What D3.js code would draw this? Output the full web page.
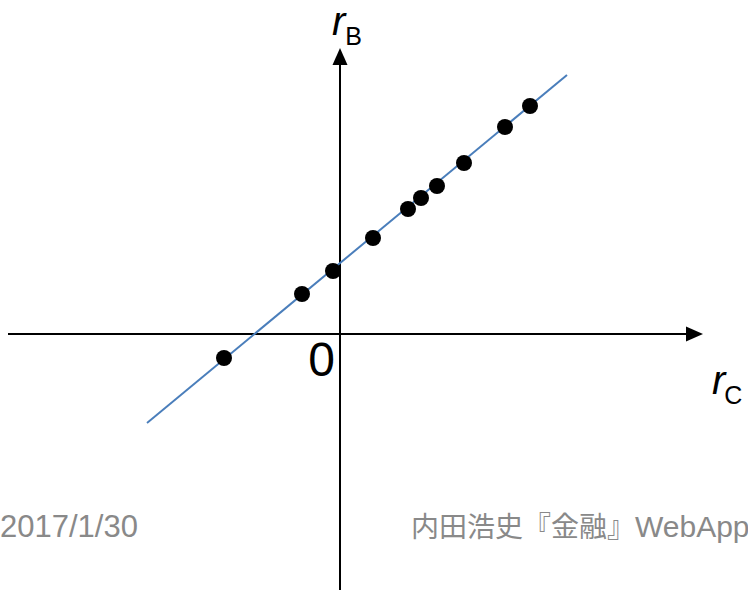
<!DOCTYPE html>
<html>
<head>
<meta charset="utf-8">
<script src="https://cdn.jsdelivr.net/npm/d3@7"></script>
<style>
  html, body { margin: 0; padding: 0; background: #fff; overflow: hidden; }
  svg { display: block; }
</style>
</head>
<body>
<div id="chart"></div>
<script>
// --------------------------------------------
// DONNEES
// --------------------------------------------
const rC = [-1.16, -0.38, -0.07, 0.33, 0.68, 0.81, 0.97, 1.24, 1.65, 1.9];
const rB = [-0.24, 0.4, 0.63, 0.96, 1.25, 1.36, 1.48, 1.71, 2.07, 2.28];

// droite de regression (extremites)
const lineX = [-1.93, 2.27];
const lineY = [-0.89, 2.59];

const originLabel = "0";
const footerDate = "2017/1/30";
const footerAuthor = "内田浩史『金融』";
const footerApp = "WebApp";

// --------------------------------------------
// DESSIN
// --------------------------------------------
const width = 748;
const height = 590;

const x = d3.scaleLinear().domain([-3.32, 3.63]).range([8, 703]);
const y = d3.scaleLinear().domain([-2.56, 2.86]).range([590, 48]);

const svg = d3
  .select("#chart")
  .append("svg")
  .attr("width", width)
  .attr("height", height);

const font = "'Liberation Sans', Arial, 'Noto Sans CJK JP', sans-serif";

// axes
svg
  .append("line")
  .attr("x1", x.range()[0])
  .attr("x2", x(3.63) - 14)
  .attr("y1", y(0))
  .attr("y2", y(0))
  .attr("stroke", "#000")
  .attr("stroke-width", 2);

svg
  .append("line")
  .attr("x1", x(0))
  .attr("x2", x(0))
  .attr("y1", y.range()[0])
  .attr("y2", y(2.86) + 14)
  .attr("stroke", "#000")
  .attr("stroke-width", 2);

// fleches
const tipX = [x(3.63), y(0)];
svg
  .append("path")
  .attr(
    "d",
    `M${tipX[0]},${tipX[1]} L${tipX[0] - 17},${tipX[1] - 7.5} L${tipX[0] - 17},${tipX[1] + 7.5} Z`
  )
  .attr("fill", "#000");

const tipY = [x(0), y(2.86)];
svg
  .append("path")
  .attr(
    "d",
    `M${tipY[0]},${tipY[1]} L${tipY[0] - 7.5},${tipY[1] + 17} L${tipY[0] + 7.5},${tipY[1] + 17} Z`
  )
  .attr("fill", "#000");

// droite
svg
  .append("line")
  .attr("x1", x(lineX[0]))
  .attr("y1", y(lineY[0]))
  .attr("x2", x(lineX[1]))
  .attr("y2", y(lineY[1]))
  .attr("stroke", "#4a7ebb")
  .attr("stroke-width", 2);

// points
svg
  .append("g")
  .selectAll("circle")
  .data(rC.map((d, i) => [d, rB[i]]))
  .enter()
  .append("circle")
  .attr("cx", (d) => x(d[0]))
  .attr("cy", (d) => y(d[1]))
  .attr("r", 8)
  .attr("fill", "#000");

// libelles des axes
const axisLabel = (px, py, sub, subDx, subDy) => {
  const t = svg
    .append("text")
    .attr("x", px)
    .attr("y", py)
    .attr("font-family", font)
    .attr("fill", "#000");
  t.append("tspan")
    .attr("font-size", 40)
    .attr("font-style", "italic")
    .text("r");
  t.append("tspan")
    .attr("font-size", 25)
    .attr("dx", subDx)
    .attr("dy", subDy)
    .text(sub);
};

axisLabel(x(0) - 8, 35, "B", 0, 10);
axisLabel(712, 394, "C", -1, 10);

svg
  .append("text")
  .attr("x", x(0) - 5)
  .attr("y", y(0) + 42)
  .attr("text-anchor", "end")
  .attr("font-family", font)
  .attr("font-size", 48)
  .attr("fill", "#000")
  .text(originLabel);

// pied de page
svg
  .append("text")
  .attr("x", 0)
  .attr("y", 537)
  .attr("font-family", font)
  .attr("font-size", 31)
  .attr("fill", "#898989")
  .text(footerDate);

const source = svg
  .append("text")
  .attr("x", 411)
  .attr("y", 537)
  .attr("font-family", font)
  .attr("fill", "#898989");
source.append("tspan").attr("font-size", 28).text(footerAuthor);
source.append("tspan").attr("font-size", 30).text(footerApp);
</script>
</body>
</html>
